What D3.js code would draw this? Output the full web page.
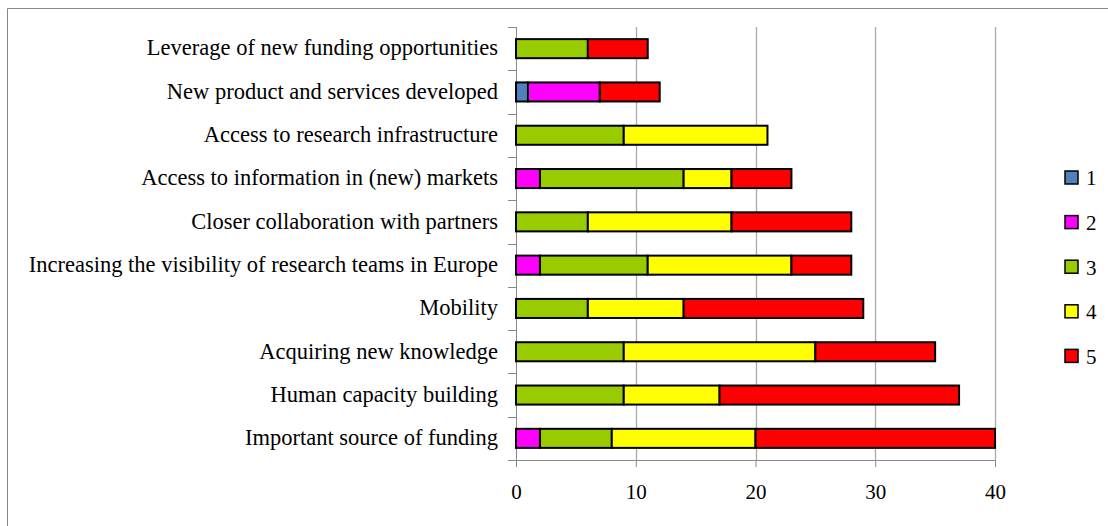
<!DOCTYPE html>
<html>
<head>
<meta charset="utf-8">
<script src="https://cdn.jsdelivr.net/npm/d3@7"></script>
<style>
  body { margin: 0; background: #fff; }
  text { font-family: "Liberation Serif", "Times New Roman", serif; fill: #000; }
</style>
</head>
<body>
<div id="chart"></div>
<script>
// categories, top to bottom
var categories = [
    "Leverage of new funding opportunities",
    "New product and services developed",
    "Access to research infrastructure",
    "Access to information in (new) markets",
    "Closer collaboration with partners",
    "Increasing the visibility of research teams in Europe",
    "Mobility",
    "Acquiring new knowledge",
    "Human capacity building",
    "Important source of funding"
];
var seriesNames = ["1", "2", "3", "4", "5"];
var colors = ["#4F81BD", "#FF00FF", "#99CC00", "#FFFF00", "#FF0000"];
// one array per score, same order as categories
var s1 = [0, 1, 0, 0, 0, 0, 0, 0, 0, 0];
var s2 = [0, 6, 0, 2, 0, 2, 0, 0, 0, 2];
var s3 = [6, 0, 9, 12, 6, 9, 6, 9, 9, 6];
var s4 = [0, 0, 12, 4, 12, 12, 8, 16, 8, 12];
var s5 = [5, 5, 0, 5, 10, 5, 15, 10, 20, 20];
var xTicks = [0, 10, 20, 30, 40];

var width = 1108, height = 526;
var margin = {left: 516, right: 113, top: 27, bottom: 66};

var svg = d3.select("#chart").append("svg")
    .attr("width", width)
    .attr("height", height);

//outer frame (only top and left edges show)
svg.append("path")
    .attr("d", "M7.5,526V8.5H1108")
    .attr("fill", "none")
    .attr("stroke", "#888")
    .attr("stroke-width", 1);

var x = d3.scaleLinear().domain([0, 40]).range([margin.left, width - margin.right]);
var y = d3.scaleBand().domain(categories).range([margin.top, height - margin.bottom]).paddingInner(0.56).paddingOuter(0.28);

//build stack rows
var rows = categories.map(function (c, i) {
    return {cat: c, "1": s1[i], "2": s2[i], "3": s3[i], "4": s4[i], "5": s5[i]};
});
var stacked = d3.stack().keys(seriesNames)(rows);

//gridlines
svg.append("g").selectAll("line")
    .data(xTicks.slice(1))
    .enter().append("line")
    .attr("x1", function (d) { return Math.round(x(d)) + 0.5; })
    .attr("x2", function (d) { return Math.round(x(d)) + 0.5; })
    .attr("y1", margin.top)
    .attr("y2", height - margin.bottom)
    .attr("stroke", "#aaa")
    .attr("stroke-width", 1.3);

//y axis line + ticks between categories
var plotBottom = height - margin.bottom;
var step = (plotBottom - margin.top) / categories.length;
var yAxis = svg.append("g");
yAxis.append("line")
    .attr("x1", margin.left + 0.5).attr("x2", margin.left + 0.5)
    .attr("y1", margin.top).attr("y2", plotBottom)
    .attr("stroke", "#888");
yAxis.selectAll(".ytick")
    .data(d3.range(categories.length + 1))
    .enter().append("line")
    .attr("x1", margin.left - 8).attr("x2", margin.left)
    .attr("y1", function (d) { return Math.round(margin.top + d * step) + 0.5; })
    .attr("y2", function (d) { return Math.round(margin.top + d * step) + 0.5; })
    .attr("stroke", "#888");

//x axis
var xAxis = svg.append("g")
    .attr("transform", "translate(0," + plotBottom + ")")
    .call(d3.axisBottom(x).tickValues(xTicks).tickSize(7).tickPadding(17));
xAxis.select(".domain").attr("stroke", "#888");
xAxis.selectAll(".tick line").attr("stroke", "#888");
xAxis.selectAll(".tick text")
    .style("font-family", '"Liberation Serif", serif')
    .attr("font-size", 21);

//category labels
svg.append("g").selectAll("text")
    .data(categories)
    .enter().append("text")
    .attr("x", margin.left - 18)
    .attr("y", function (d) { return y(d) + y.bandwidth() / 2; })
    .attr("dy", "0.3em")
    .attr("text-anchor", "end")
    .attr("font-size", 22.5)
    .text(function (d) { return d; });

//bars
var layers = svg.append("g").selectAll("g")
    .data(stacked)
    .enter().append("g")
    .attr("fill", function (d, i) { return colors[i]; });

layers.selectAll("rect")
    .data(function (d) { return d.filter(function (p) { return p[1] > p[0]; }); })
    .enter().append("rect")
    .attr("x", function (d) { return x(d[0]); })
    .attr("y", function (d) { return y(d.data.cat); })
    .attr("width", function (d) { return x(d[1]) - x(d[0]); })
    .attr("height", y.bandwidth())
    .attr("stroke", "#000")
    .attr("stroke-width", 2);

//legend
var legend = svg.append("g").selectAll("g")
    .data(seriesNames)
    .enter().append("g")
    .attr("transform", function (d, i) { return "translate(1065," + (171 + i * 44.6) + ")"; });
legend.append("rect")
    .attr("width", 13).attr("height", 13)
    .attr("fill", function (d, i) { return colors[i]; })
    .attr("stroke", "#000")
    .attr("stroke-width", 1.5);
legend.append("text")
    .attr("x", 21).attr("y", 7)
    .attr("dy", "0.35em")
    .attr("font-size", 21)
    .text(function (d) { return d; });
</script>
</body>
</html>
